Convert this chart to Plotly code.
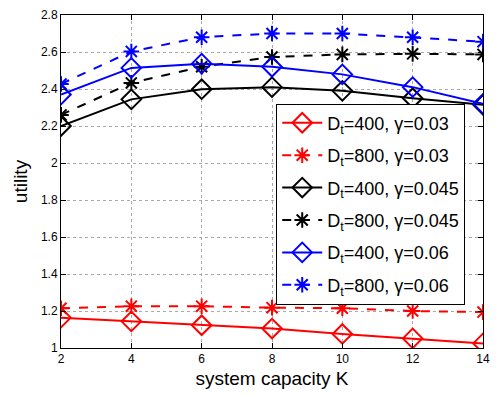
import plotly.graph_objects as go

K = [2, 4, 6, 8, 10, 12, 14]
red_400 = [1.164, 1.144, 1.123, 1.105, 1.076, 1.052, 1.025]
red_800 = [1.215, 1.226, 1.226, 1.218, 1.215, 1.200, 1.194]
blk_400 = [2.200, 2.344, 2.399, 2.410, 2.390, 2.350, 2.315]
blk_800 = [2.260, 2.433, 2.520, 2.573, 2.587, 2.590, 2.587]
blu_400 = [2.370, 2.514, 2.537, 2.520, 2.479, 2.410, 2.320]
blu_800 = [2.427, 2.603, 2.680, 2.700, 2.700, 2.680, 2.656]

names = ["D<sub>t</sub>=400, γ=0.03", "D<sub>t</sub>=800, γ=0.03",
         "D<sub>t</sub>=400, γ=0.045", "D<sub>t</sub>=800, γ=0.045",
         "D<sub>t</sub>=400, γ=0.06", "D<sub>t</sub>=800, γ=0.06"]
series = [red_400, red_800, blk_400, blk_800, blu_400, blu_800]
colors = ["#ff0000", "#ff0000", "#000000", "#000000", "#0000ff", "#0000ff"]

fig = go.Figure()
for i, (nm, ys, c) in enumerate(zip(names, series, colors)):
    diamond = (i % 2 == 0)
    fig.add_trace(go.Scatter(
        x=K, y=ys, name=nm, mode="lines+markers", legendgroup=f"g{i}",
        line=dict(color=c, width=2, dash="solid" if diamond else "dash"),
        marker=dict(symbol="diamond-open" if diamond else "asterisk-open",
                    size=15 if diamond else 13,
                    color=c, line=dict(color=c, width=2)),
    ))

fig.update_layout(
    width=498, height=397,
    margin=dict(l=61, r=8, t=10, b=49),
    paper_bgcolor="white", plot_bgcolor="white",
    font=dict(family="Liberation Sans, Arial, sans-serif", color="black"),
    legend=dict(x=0.51, y=0.734, xanchor="left", yanchor="top",
                bgcolor="white", bordercolor="black", borderwidth=1,
                font=dict(size=18), tracegroupgap=6, itemwidth=40),
    showlegend=True,
)
fig.update_xaxes(range=[2, 14], tickvals=[2, 4, 6, 8, 10, 12, 14],
                 ticks="inside", ticklen=5, tickcolor="black",
                 showline=True, linecolor="black", linewidth=1, mirror="ticks",
                 showgrid=True, gridcolor="#aaaaaa", griddash="dot", gridwidth=1,
                 zeroline=False, tickfont=dict(size=12),
                 title=dict(text="system capacity K", font=dict(size=19), standoff=6))
fig.update_yaxes(range=[1, 2.8], tickvals=[1, 1.2, 1.4, 1.6, 1.8, 2, 2.2, 2.4, 2.6, 2.8],
                 ticktext=["1", "1.2", "1.4", "1.6", "1.8", "2", "2.2", "2.4", "2.6", "2.8"],
                 ticks="inside", ticklen=5, tickcolor="black",
                 showline=True, linecolor="black", linewidth=1, mirror="ticks",
                 showgrid=True, gridcolor="#aaaaaa", griddash="dot", gridwidth=1,
                 zeroline=False, tickfont=dict(size=12),
                 title=dict(text="utility", font=dict(size=19), standoff=8))

fig.write_html("out.html")
